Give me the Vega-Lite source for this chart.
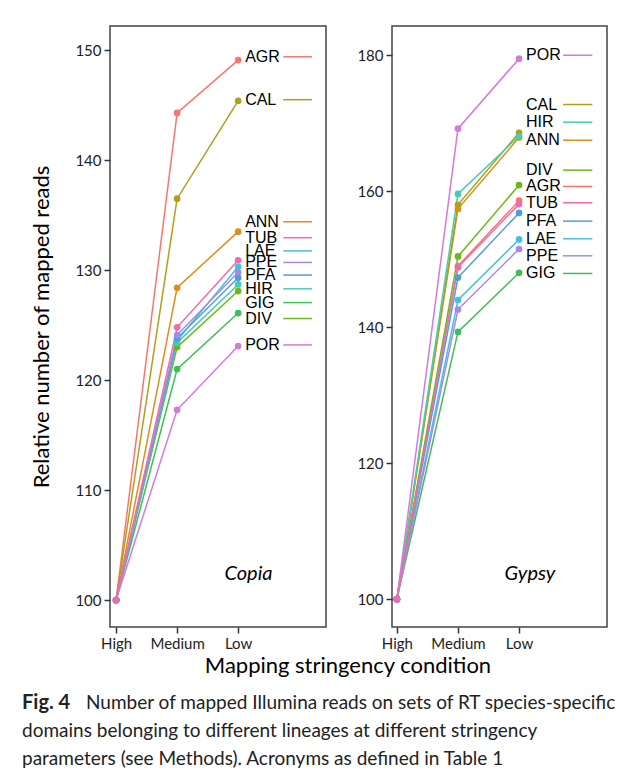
{
  "$schema": "https://vega.github.io/schema/vega-lite/v6.json",
  "padding": {"left": 22, "top": 25, "right": 0, "bottom": 0},
  "background": "white",
  "config": {
    "view": {"stroke": "#444444", "strokeWidth": 1.5},
    "axis": {
      "labelFont": "Lato", "labelFontSize": 15, "labelColor": "#222222",
      "tickColor": "#333333", "tickWidth": 1.5, "tickSize": 6, "labelPadding": 3,
      "domain": false, "grid": false,
      "titleFont": "Lato", "titleFontSize": 22, "titleFontWeight": "normal", "titleColor": "#000000"
    }
  },
  "datasets": {
    "points": [
      {"lineage": "Copia", "species": "AGR", "level": 1, "reads": 100}, {"lineage": "Copia", "species": "AGR", "level": 2, "reads": 144.3}, {"lineage": "Copia", "species": "AGR", "level": 3, "reads": 149.1},
      {"lineage": "Copia", "species": "ANN", "level": 1, "reads": 100}, {"lineage": "Copia", "species": "ANN", "level": 2, "reads": 128.4}, {"lineage": "Copia", "species": "ANN", "level": 3, "reads": 133.5},
      {"lineage": "Copia", "species": "CAL", "level": 1, "reads": 100}, {"lineage": "Copia", "species": "CAL", "level": 2, "reads": 136.5}, {"lineage": "Copia", "species": "CAL", "level": 3, "reads": 145.4},
      {"lineage": "Copia", "species": "DIV", "level": 1, "reads": 100}, {"lineage": "Copia", "species": "DIV", "level": 2, "reads": 123.0}, {"lineage": "Copia", "species": "DIV", "level": 3, "reads": 128.1},
      {"lineage": "Copia", "species": "GIG", "level": 1, "reads": 100}, {"lineage": "Copia", "species": "GIG", "level": 2, "reads": 121.0}, {"lineage": "Copia", "species": "GIG", "level": 3, "reads": 126.1},
      {"lineage": "Copia", "species": "HIR", "level": 1, "reads": 100}, {"lineage": "Copia", "species": "HIR", "level": 2, "reads": 123.4}, {"lineage": "Copia", "species": "HIR", "level": 3, "reads": 128.7},
      {"lineage": "Copia", "species": "LAE", "level": 1, "reads": 100}, {"lineage": "Copia", "species": "LAE", "level": 2, "reads": 123.6}, {"lineage": "Copia", "species": "LAE", "level": 3, "reads": 130.3},
      {"lineage": "Copia", "species": "PFA", "level": 1, "reads": 100}, {"lineage": "Copia", "species": "PFA", "level": 2, "reads": 123.8}, {"lineage": "Copia", "species": "PFA", "level": 3, "reads": 129.3},
      {"lineage": "Copia", "species": "POR", "level": 1, "reads": 100}, {"lineage": "Copia", "species": "POR", "level": 2, "reads": 117.3}, {"lineage": "Copia", "species": "POR", "level": 3, "reads": 123.1},
      {"lineage": "Copia", "species": "PPE", "level": 1, "reads": 100}, {"lineage": "Copia", "species": "PPE", "level": 2, "reads": 124.1}, {"lineage": "Copia", "species": "PPE", "level": 3, "reads": 129.8},
      {"lineage": "Copia", "species": "TUB", "level": 1, "reads": 100}, {"lineage": "Copia", "species": "TUB", "level": 2, "reads": 124.8}, {"lineage": "Copia", "species": "TUB", "level": 3, "reads": 130.9},
      {"lineage": "Gypsy", "species": "AGR", "level": 1, "reads": 100}, {"lineage": "Gypsy", "species": "AGR", "level": 2, "reads": 149.0}, {"lineage": "Gypsy", "species": "AGR", "level": 3, "reads": 158.6},
      {"lineage": "Gypsy", "species": "ANN", "level": 1, "reads": 100}, {"lineage": "Gypsy", "species": "ANN", "level": 2, "reads": 157.4}, {"lineage": "Gypsy", "species": "ANN", "level": 3, "reads": 167.9},
      {"lineage": "Gypsy", "species": "CAL", "level": 1, "reads": 100}, {"lineage": "Gypsy", "species": "CAL", "level": 2, "reads": 158.0}, {"lineage": "Gypsy", "species": "CAL", "level": 3, "reads": 168.6},
      {"lineage": "Gypsy", "species": "DIV", "level": 1, "reads": 100}, {"lineage": "Gypsy", "species": "DIV", "level": 2, "reads": 150.4}, {"lineage": "Gypsy", "species": "DIV", "level": 3, "reads": 160.9},
      {"lineage": "Gypsy", "species": "GIG", "level": 1, "reads": 100}, {"lineage": "Gypsy", "species": "GIG", "level": 2, "reads": 139.3}, {"lineage": "Gypsy", "species": "GIG", "level": 3, "reads": 148.0},
      {"lineage": "Gypsy", "species": "HIR", "level": 1, "reads": 100}, {"lineage": "Gypsy", "species": "HIR", "level": 2, "reads": 159.6}, {"lineage": "Gypsy", "species": "HIR", "level": 3, "reads": 168.1},
      {"lineage": "Gypsy", "species": "LAE", "level": 1, "reads": 100}, {"lineage": "Gypsy", "species": "LAE", "level": 2, "reads": 144.0}, {"lineage": "Gypsy", "species": "LAE", "level": 3, "reads": 152.9},
      {"lineage": "Gypsy", "species": "PFA", "level": 1, "reads": 100}, {"lineage": "Gypsy", "species": "PFA", "level": 2, "reads": 147.3}, {"lineage": "Gypsy", "species": "PFA", "level": 3, "reads": 156.8},
      {"lineage": "Gypsy", "species": "POR", "level": 1, "reads": 100}, {"lineage": "Gypsy", "species": "POR", "level": 2, "reads": 169.2}, {"lineage": "Gypsy", "species": "POR", "level": 3, "reads": 179.5},
      {"lineage": "Gypsy", "species": "PPE", "level": 1, "reads": 100}, {"lineage": "Gypsy", "species": "PPE", "level": 2, "reads": 142.6}, {"lineage": "Gypsy", "species": "PPE", "level": 3, "reads": 151.5},
      {"lineage": "Gypsy", "species": "TUB", "level": 1, "reads": 100}, {"lineage": "Gypsy", "species": "TUB", "level": 2, "reads": 148.8}, {"lineage": "Gypsy", "species": "TUB", "level": 3, "reads": 158.1}
    ],
    "labels": [
      {"lineage": "Copia", "species": "AGR", "labelY": 149.4},
      {"lineage": "Copia", "species": "CAL", "labelY": 145.5},
      {"lineage": "Copia", "species": "ANN", "labelY": 134.4},
      {"lineage": "Copia", "species": "TUB", "labelY": 132.95},
      {"lineage": "Copia", "species": "LAE", "labelY": 131.75},
      {"lineage": "Copia", "species": "PPE", "labelY": 130.7},
      {"lineage": "Copia", "species": "PFA", "labelY": 129.55},
      {"lineage": "Copia", "species": "HIR", "labelY": 128.3},
      {"lineage": "Copia", "species": "GIG", "labelY": 127.05},
      {"lineage": "Copia", "species": "DIV", "labelY": 125.6},
      {"lineage": "Copia", "species": "POR", "labelY": 123.2},
      {"lineage": "Gypsy", "species": "POR", "labelY": 180.0},
      {"lineage": "Gypsy", "species": "CAL", "labelY": 172.75},
      {"lineage": "Gypsy", "species": "HIR", "labelY": 170.15},
      {"lineage": "Gypsy", "species": "ANN", "labelY": 167.5},
      {"lineage": "Gypsy", "species": "DIV", "labelY": 163.1},
      {"lineage": "Gypsy", "species": "AGR", "labelY": 160.7},
      {"lineage": "Gypsy", "species": "TUB", "labelY": 158.3},
      {"lineage": "Gypsy", "species": "PFA", "labelY": 155.6},
      {"lineage": "Gypsy", "species": "LAE", "labelY": 153.0},
      {"lineage": "Gypsy", "species": "PPE", "labelY": 150.5},
      {"lineage": "Gypsy", "species": "GIG", "labelY": 147.9}
    ],
    "panels": [{"lineage": "Copia"}, {"lineage": "Gypsy"}],
    "caption": [
      {"line": 1, "style": "bold", "text": "Fig. 4"},
      {"line": 1, "style": "normal", "text": "Number of mapped Illumina reads on sets of RT species-specific"},
      {"line": 2, "style": "normal", "text": "domains belonging to different lineages at different stringency"},
      {"line": 3, "style": "normal", "text": "parameters (see Methods). Acronyms as defined in Table 1"}
    ]
  },
  "spacing": 12,
  "vconcat": [
    {
      "spacing": 29,
      "resolve": {"scale": {"x": "independent", "y": "independent"}},
      "title": {"text": "Mapping stringency condition", "orient": "bottom", "anchor": "middle", "font": "Lato", "fontSize": 22, "fontWeight": "normal", "color": "#000000", "offset": 4, "dx": 29},
      "hconcat": [
        {
          "width": 216, "height": 601,
          "layer": [
            {
              "data": {"name": "points"},
              "transform": [{"filter": "datum.lineage == 'Copia'"}],
              "mark": {"type": "line", "strokeWidth": 1.5},
              "encoding": {
                "x": {"field": "level", "type": "quantitative", "scale": {"domain": [0.9, 4.44], "nice": false, "zero": false},
                      "axis": {"values": [1, 2, 3], "labelExpr": "datum.value == 1 ? 'High' : datum.value == 2 ? 'Medium' : 'Low'", "title": null}},
                "y": {"field": "reads", "type": "quantitative", "scale": {"domain": [97.55, 152.2], "nice": false, "zero": false},
                      "axis": {"values": [100, 110, 120, 130, 140, 150], "title": "Relative number of mapped reads", "titlePadding": 21}},
                "color": {"field": "species", "type": "nominal", "legend": null,
                          "scale": {"domain": ["AGR","ANN","CAL","DIV","GIG","HIR","LAE","PFA","POR","PPE","TUB"],
                                    "range": ["#F8766D","#DD8E1E","#ADA11A","#6CB816","#3FBD5A","#45CDB4","#45C0E0","#4F9EDC","#D57AD9","#A98AE2","#EE6BAC"]}},
                "detail": {"field": "species"}
              }
            },
            {
              "data": {"name": "points"},
              "transform": [{"filter": "datum.lineage == 'Copia'"}],
              "mark": {"type": "point", "filled": true, "size": 45, "opacity": 1},
              "encoding": {
                "x": {"field": "level", "type": "quantitative"},
                "y": {"field": "reads", "type": "quantitative"},
                "color": {"field": "species", "type": "nominal", "legend": null}
              }
            },
            {
              "data": {"name": "labels"},
              "transform": [{"filter": "datum.lineage == 'Copia'"}],
              "mark": {"type": "text", "align": "left", "baseline": "middle", "dx": 7, "font": "Liberation Sans", "fontSize": 16, "color": "#000000"},
              "encoding": {
                "x": {"datum": 3, "type": "quantitative"},
                "y": {"field": "labelY", "type": "quantitative"},
                "text": {"field": "species"}
              }
            },
            {
              "data": {"name": "labels"},
              "transform": [{"filter": "datum.lineage == 'Copia'"}],
              "mark": {"type": "rule", "strokeWidth": 1.5},
              "encoding": {
                "x": {"datum": 3.74, "type": "quantitative"},
                "x2": {"datum": 4.21},
                "y": {"field": "labelY", "type": "quantitative"},
                "color": {"field": "species", "type": "nominal", "legend": null}
              }
            },
            {
              "data": {"name": "panels"},
              "transform": [{"filter": "datum.lineage == 'Copia'"}],
              "mark": {"type": "text", "font": "Lato", "fontStyle": "italic", "fontSize": 20, "align": "center", "baseline": "middle", "color": "#000000"},
              "encoding": {
                "x": {"datum": 3.17, "type": "quantitative"},
                "y": {"datum": 102.4, "type": "quantitative"},
                "text": {"field": "lineage"}
              }
            }
          ]
        },
        {
          "width": 215, "height": 601,
          "layer": [
            {
              "data": {"name": "points"},
              "transform": [{"filter": "datum.lineage == 'Gypsy'"}],
              "mark": {"type": "line", "strokeWidth": 1.5},
              "encoding": {
                "x": {"field": "level", "type": "quantitative", "scale": {"domain": [0.92, 4.44], "nice": false, "zero": false},
                      "axis": {"values": [1, 2, 3], "labelExpr": "datum.value == 1 ? 'High' : datum.value == 2 ? 'Medium' : 'Low'", "title": null}},
                "y": {"field": "reads", "type": "quantitative", "scale": {"domain": [95.9, 184.3], "nice": false, "zero": false},
                      "axis": {"values": [100, 120, 140, 160, 180], "title": null}},
                "color": {"field": "species", "type": "nominal", "legend": null,
                          "scale": {"domain": ["AGR","ANN","CAL","DIV","GIG","HIR","LAE","PFA","POR","PPE","TUB"],
                                    "range": ["#F8766D","#DD8E1E","#ADA11A","#6CB816","#3FBD5A","#45CDB4","#45C0E0","#4F9EDC","#D57AD9","#A98AE2","#EE6BAC"]}},
                "detail": {"field": "species"}
              }
            },
            {
              "data": {"name": "points"},
              "transform": [{"filter": "datum.lineage == 'Gypsy'"}],
              "mark": {"type": "point", "filled": true, "size": 45, "opacity": 1},
              "encoding": {
                "x": {"field": "level", "type": "quantitative"},
                "y": {"field": "reads", "type": "quantitative"},
                "color": {"field": "species", "type": "nominal", "legend": null}
              }
            },
            {
              "data": {"name": "labels"},
              "transform": [{"filter": "datum.lineage == 'Gypsy'"}],
              "mark": {"type": "text", "align": "left", "baseline": "middle", "dx": 7, "font": "Liberation Sans", "fontSize": 16, "color": "#000000"},
              "encoding": {
                "x": {"datum": 3, "type": "quantitative"},
                "y": {"field": "labelY", "type": "quantitative"},
                "text": {"field": "species"}
              }
            },
            {
              "data": {"name": "labels"},
              "transform": [{"filter": "datum.lineage == 'Gypsy'"}],
              "mark": {"type": "rule", "strokeWidth": 1.5},
              "encoding": {
                "x": {"datum": 3.72, "type": "quantitative"},
                "x2": {"datum": 4.2},
                "y": {"field": "labelY", "type": "quantitative"},
                "color": {"field": "species", "type": "nominal", "legend": null}
              }
            },
            {
              "data": {"name": "panels"},
              "transform": [{"filter": "datum.lineage == 'Gypsy'"}],
              "mark": {"type": "text", "font": "Lato", "fontStyle": "italic", "fontSize": 20, "align": "center", "baseline": "middle", "color": "#000000"},
              "encoding": {
                "x": {"datum": 3.18, "type": "quantitative"},
                "y": {"datum": 103.7, "type": "quantitative"},
                "text": {"field": "lineage"}
              }
            }
          ]
        }
      ]
    },
    {
      "width": 596, "height": 84,
      "view": {"stroke": null},
      "data": {"name": "caption"},
      "encoding": {
        "y": {"field": "line", "type": "ordinal", "axis": null, "scale": {"type": "point", "padding": 0.5}},
        "x": {"datum": 0, "type": "quantitative", "axis": null, "scale": {"domain": [0, 1]}},
        "text": {"field": "text"}
      },
      "layer": [
        {"transform": [{"filter": "datum.style == 'bold'"}], "mark": {"type": "text", "align": "left", "baseline": "middle", "dx": -88, "font": "Lato", "fontSize": 20, "fontWeight": "bold", "color": "#222222"}},
        {"transform": [{"filter": "datum.style == 'normal' && datum.line == 1"}], "mark": {"type": "text", "align": "left", "baseline": "middle", "dx": -24, "font": "Lato", "fontSize": 19, "color": "#222222"}},
        {"transform": [{"filter": "datum.line == 2"}], "mark": {"type": "text", "align": "left", "baseline": "middle", "dx": -88, "letterSpacing": 0.8, "font": "Lato", "fontSize": 19, "color": "#222222"}},
        {"transform": [{"filter": "datum.line == 3"}], "mark": {"type": "text", "align": "left", "baseline": "middle", "dx": -88, "letterSpacing": 1.45, "font": "Lato", "fontSize": 19, "color": "#222222"}}
      ]
    }
  ]
}
